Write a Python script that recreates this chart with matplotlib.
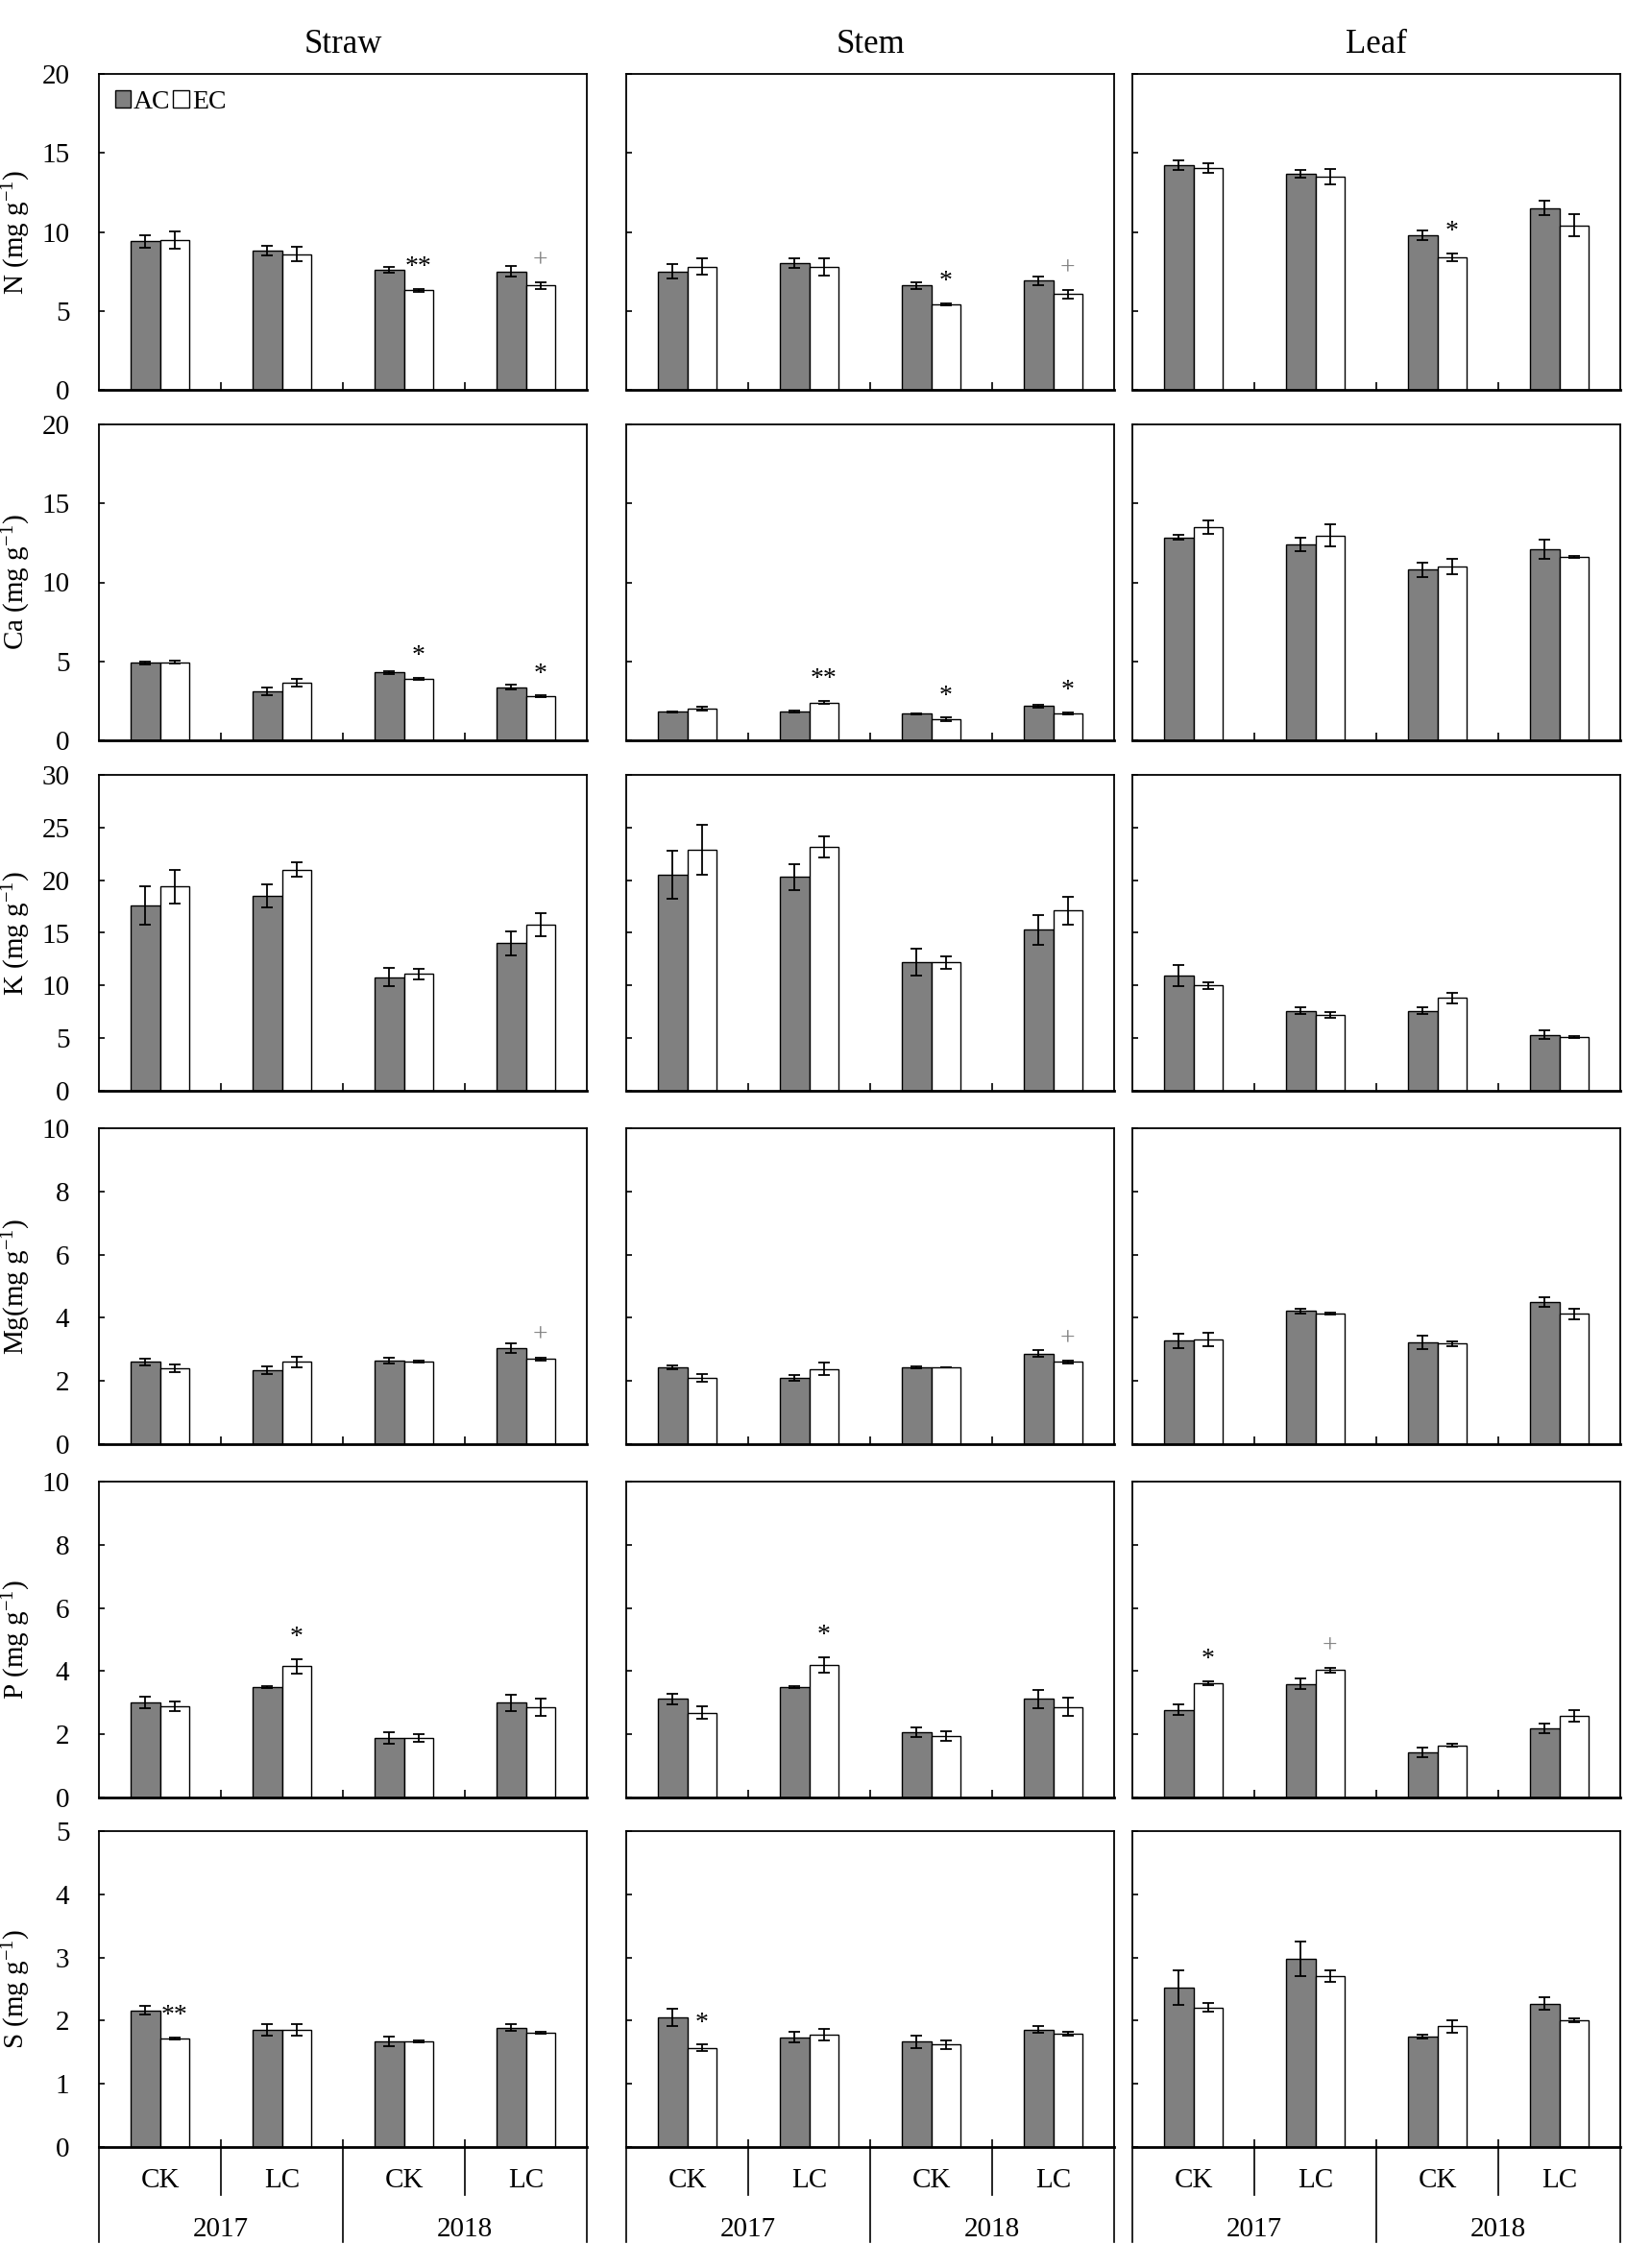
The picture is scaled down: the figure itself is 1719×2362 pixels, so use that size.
import numpy as np
import matplotlib
matplotlib.use("Agg")
import matplotlib.pyplot as plt
from matplotlib.patches import Patch

plt.rcParams['font.family'] = ['Liberation Serif', 'DejaVu Serif']
plt.rcParams['mathtext.fontset'] = 'custom'
plt.rcParams['mathtext.rm'] = 'Liberation Serif'
plt.rcParams['mathtext.it'] = 'Liberation Serif:italic'

tissues = ['Straw', 'Stem', 'Leaf']
treatments = ['CK', 'LC', 'CK', 'LC']
years = ['2017', '2018']

# rows of each array: Straw, Stem, Leaf; columns: 2017 CK, 2017 LC, 2018 CK, 2018 LC
n_ac = [[9.4, 8.8, 7.6, 7.5], [7.5, 8.0, 6.6, 6.9], [14.2, 13.7, 9.8, 11.5]]
n_ac_err = [[0.4, 0.3, 0.2, 0.35], [0.45, 0.3, 0.2, 0.25], [0.3, 0.25, 0.3, 0.45]]
n_ec = [[9.5, 8.6, 6.3, 6.6], [7.8, 7.8, 5.4, 6.05], [14.05, 13.5, 8.4, 10.4]]
n_ec_err = [[0.55, 0.45, 0.1, 0.2], [0.5, 0.55, 0.05, 0.25], [0.3, 0.5, 0.25, 0.7]]
n_sig = [['', '', '**', '+'], ['', '', '*', '+'], ['', '', '*', '']]

ca_ac = [[4.9, 3.1, 4.3, 3.35], [1.8, 1.83, 1.68, 2.17], [12.85, 12.4, 10.8, 12.1]]
ca_ac_err = [[0.1, 0.25, 0.1, 0.15], [0.05, 0.05, 0.03, 0.08], [0.15, 0.4, 0.45, 0.6]]
ca_ec = [[4.95, 3.65, 3.9, 2.78], [2.0, 2.38, 1.33, 1.71], [13.5, 12.95, 11.0, 11.62]]
ca_ec_err = [[0.07, 0.25, 0.05, 0.05], [0.1, 0.1, 0.1, 0.05], [0.45, 0.7, 0.5, 0.08]]
ca_sig = [['', '', '*', '*'], ['', '**', '*', '*'], ['', '', '', '']]

k_ac = [[17.6, 18.5, 10.8, 14.0], [20.5, 20.3, 12.2, 15.3], [10.9, 7.6, 7.6, 5.3]]
k_ac_err = [[1.8, 1.1, 0.9, 1.1], [2.3, 1.2, 1.3, 1.4], [1.0, 0.3, 0.3, 0.4]]
k_ec = [[19.4, 21.0, 11.1, 15.8], [22.9, 23.2, 12.2, 17.1], [10.0, 7.2, 8.8, 5.1]]
k_ec_err = [[1.6, 0.7, 0.5, 1.1], [2.4, 1.0, 0.6, 1.3], [0.3, 0.3, 0.5, 0.1]]
k_sig = [['', '', '', ''], ['', '', '', ''], ['', '', '', '']]

mg_ac = [[2.6, 2.33, 2.65, 3.05], [2.43, 2.1, 2.43, 2.87], [3.27, 4.22, 3.22, 4.5]]
mg_ac_err = [[0.1, 0.12, 0.1, 0.15], [0.06, 0.1, 0.04, 0.1], [0.22, 0.08, 0.2, 0.15]]
mg_ec = [[2.4, 2.6, 2.6, 2.7], [2.1, 2.38, 2.43, 2.6], [3.32, 4.12, 3.18, 4.12]]
mg_ec_err = [[0.13, 0.17, 0.03, 0.05], [0.12, 0.2, 0.0, 0.04], [0.22, 0.03, 0.08, 0.18]]
mg_sig = [['', '', '', '+'], ['', '', '', '+'], ['', '', '', '']]

p_ac = [[3.0, 3.5, 1.88, 3.0], [3.12, 3.5, 2.08, 3.12], [2.78, 3.6, 1.43, 2.2]]
p_ac_err = [[0.18, 0.04, 0.18, 0.25], [0.17, 0.03, 0.15, 0.28], [0.18, 0.18, 0.15, 0.15]]
p_ec = [[2.9, 4.15, 1.88, 2.85], [2.68, 4.2, 1.95, 2.87], [3.62, 4.03, 1.65, 2.58]]
p_ec_err = [[0.15, 0.22, 0.12, 0.28], [0.2, 0.25, 0.15, 0.3], [0.07, 0.08, 0.05, 0.18]]
p_sig = [['', '*', '', ''], ['', '*', '', ''], ['*', '+', '', '']]

s_ac = [[2.16, 1.86, 1.67, 1.89], [2.05, 1.74, 1.67, 1.86], [2.52, 2.98, 1.75, 2.27]]
s_ac_err = [[0.07, 0.09, 0.08, 0.05], [0.14, 0.09, 0.1, 0.05], [0.27, 0.27, 0.03, 0.1]]
s_ec = [[1.72, 1.86, 1.67, 1.81], [1.57, 1.78, 1.62, 1.8], [2.21, 2.7, 1.91, 2.0]]
s_ec_err = [[0.02, 0.09, 0.02, 0.02], [0.05, 0.09, 0.07, 0.03], [0.07, 0.09, 0.1, 0.03]]
s_sig = [['**', '', '', ''], ['*', '', '', ''], ['', '', '', '']]

ylabels = ['N (mg g$^{\\mathregular{-1}}$)', 'Ca (mg g$^{\\mathregular{-1}}$)',
           'K (mg g$^{\\mathregular{-1}}$)', 'Mg(mg g$^{\\mathregular{-1}}$)',
           'P (mg g$^{\\mathregular{-1}}$)', 'S (mg g$^{\\mathregular{-1}}$)']
ymax = [20, 20, 30, 10, 10, 5]
ystep = [5, 5, 5, 2, 2, 1]

rows = [
    (n_ac, n_ac_err, n_ec, n_ec_err, n_sig),
    (ca_ac, ca_ac_err, ca_ec, ca_ec_err, ca_sig),
    (k_ac, k_ac_err, k_ec, k_ec_err, k_sig),
    (mg_ac, mg_ac_err, mg_ec, mg_ec_err, mg_sig),
    (p_ac, p_ac_err, p_ec, p_ec_err, p_sig),
    (s_ac, s_ac_err, s_ec, s_ec_err, s_sig),
]

W, H = 1719, 2362
fig = plt.figure(figsize=(W / 100, H / 100), dpi=100)

col_left = [103, 652, 1179]
col_w = 508
row_top = [77, 442, 807, 1175, 1543, 1907]
row_h = 329

gray = '#808080'
bw = 0.24
x = np.arange(4)
fs = 21

for r, (ac, ac_err, ec, ec_err, sig) in enumerate(rows):
    for c in range(3):
        ax = fig.add_axes([col_left[c] / W, 1 - (row_top[r] + row_h) / H,
                           col_w / W, row_h / H])
        ax.bar(x - bw / 2, ac[c], bw, color=gray, edgecolor='black', linewidth=1.0, zorder=2)
        ax.bar(x + bw / 2, ec[c], bw, color='white', edgecolor='black', linewidth=1.0, zorder=2)
        ax.errorbar(x - bw / 2, ac[c], yerr=ac_err[c], fmt='none', ecolor='black',
                    elinewidth=1.3, capsize=4, capthick=1.3, zorder=3)
        ax.errorbar(x + bw / 2, ec[c], yerr=ec_err[c], fmt='none', ecolor='black',
                    elinewidth=1.3, capsize=4, capthick=1.3, zorder=3)

        for i in range(4):
            s = sig[c][i]
            if s:
                top = ec[c][i] + ec_err[c][i]
                ax.text(i + bw / 2, top + 0.03 * ymax[r], s, ha='center', va='bottom',
                        fontsize=20, color=gray if s == '+' else 'black')

        ax.set_xlim(-0.5, 3.5)
        ax.set_ylim(0, ymax[r])
        ax.set_yticks(np.arange(0, ymax[r] + 0.1, ystep[r]))
        ax.set_xticks([])
        ax.set_xticks([0.5, 1.5, 2.5], minor=True)
        ax.tick_params(axis='x', which='minor', direction='in', length=6, width=1.2)
        ax.tick_params(axis='y', direction='in', length=4, width=1.2, pad=22, labelsize=fs)
        for sp in ax.spines.values():
            sp.set_linewidth(1.3)
        ax.spines['bottom'].set_linewidth(2.0)

        if c == 0:
            ax.set_ylabel(ylabels[r], fontsize=fs)
            ax.yaxis.set_label_coords(-0.135, 0.5)
        else:
            ax.set_yticklabels([])

        if r == 0:
            ax.set_title(tissues[c], fontsize=25, pad=16)
            if c == 0:
                handles = [Patch(facecolor=gray, edgecolor='black', label='AC'),
                           Patch(facecolor='white', edgecolor='black', label='EC')]
                ax.legend(handles=handles, loc='upper left', ncol=2, frameon=False,
                          fontsize=20, handlelength=0.6, handleheight=0.6,
                          handletextpad=0.1, columnspacing=0.1,
                          borderaxespad=0.3, borderpad=0.3)

        if r == len(rows) - 1:
            tr = ax.get_xaxis_transform()
            for i in range(4):
                ax.text(x[i], -0.107, treatments[i], transform=tr, ha='center',
                        va='center', fontsize=fs)
            for k, yr in enumerate(years):
                ax.text(2 * k + 0.5, -0.26, yr, transform=tr, ha='center',
                        va='center', fontsize=fs)
            for xs in [0.5, 2.5]:
                ax.plot([xs, xs], [0, -0.152], transform=tr, color='black',
                        lw=1.2, clip_on=False)
            for xs in [-0.5, 1.5, 3.5]:
                ax.plot([xs, xs], [0, -0.30], transform=tr, color='black',
                        lw=1.2, clip_on=False)

fig.savefig('out.png', dpi=100)
